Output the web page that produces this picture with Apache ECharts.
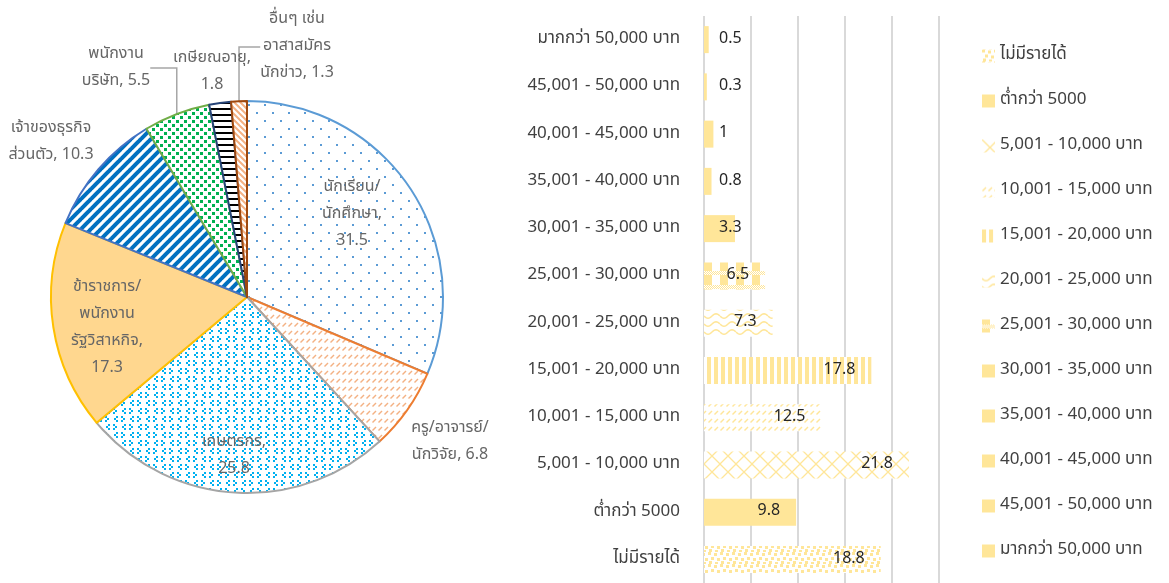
<!DOCTYPE html>
<html>
<head>
<meta charset="utf-8">
<script src="https://cdn.jsdelivr.net/npm/echarts@6/dist/echarts.min.js"></script>
<style>
  html, body { margin: 0; padding: 0; background: #fff; }
  #chart { width: 1169px; height: 583px; }
</style>
</head>
<body>
<div id="chart"></div>
<script>
// Occupation shares (pie), clockwise from 12 o'clock
const occupations = [
  'นักเรียน/\nนักศึกษา',
  'ครู/อาจารย์/\nนักวิจัย',
  'เกษตรกร',
  'ข้าราชการ/\nพนักงาน\nรัฐวิสาหกิจ',
  'เจ้าของธุรกิจ\nส่วนตัว',
  'พนักงาน\nบริษัท',
  'เกษียณอายุ',
  'อื่นๆ เช่น\nอาสาสมัคร\nนักข่าว'
];
const occupationShare = [31.5, 6.8, 25.8, 17.3, 10.3, 5.5, 1.8, 1.3];

// Monthly income bands (bar), listed bottom to top
const incomeBands = [
  'ไม่มีรายได้',
  'ต่ำกว่า 5000',
  '5,001 - 10,000 บาท',
  '10,001 - 15,000 บาท',
  '15,001 - 20,000 บาท',
  '20,001 - 25,000 บาท',
  '25,001 - 30,000 บาท',
  '30,001 - 35,000 บาท',
  '35,001 - 40,000 บาท',
  '40,001 - 45,000 บาท',
  '45,001 - 50,000 บาท',
  'มากกว่า 50,000 บาท'
];
const incomeShare = [18.8, 9.8, 21.8, 12.5, 17.8, 7.3, 6.5, 3.3, 0.8, 1, 0.3, 0.5];

const FONT = "Tahoma, 'Noto Sans Thai', 'Noto Sans', 'DejaVu Sans', sans-serif";

// ---- pattern tiles ----
function tile(w, h, draw, bg) {
  const c = document.createElement('canvas');
  c.width = w; c.height = h;
  const g = c.getContext('2d');
  g.fillStyle = bg || '#ffffff';
  g.fillRect(0, 0, w, h);
  draw(g, w, h);
  return { image: c, repeat: 'repeat' };
}
function diag(g, w, h, color, lw, up) {
  g.strokeStyle = color; g.lineWidth = lw;
  for (let k = -w; k <= w; k += w) {
    g.beginPath();
    if (up) { g.moveTo(k - 1, h + 1); g.lineTo(k + w + 1, -1); }
    else { g.moveTo(k - 1, -1); g.lineTo(k + w + 1, h + 1); }
    g.stroke();
  }
}
function squares(g, color, pts, s) {
  g.fillStyle = color;
  pts.forEach(p => g.fillRect(p[0], p[1], s, s));
}
function dashUp(color) {
  return tile(6, 8, g => {
    g.strokeStyle = color; g.lineWidth = 1.4;
    g.beginPath(); g.moveTo(0.5, 6.5); g.lineTo(4, 3); g.stroke();
  });
}

const GOLD = '#FFE699';
const pieFills = [
  tile(16, 16, g => squares(g, '#5B9BD5', [[0, 0], [8, 8]], 2)),
  dashUp('#F4B183'),
  tile(16, 16, g => squares(g, '#00B0F0',
    [[4, 0], [2, 2], [4, 4], [9, 0], [11, 2], [9, 4],
     [12, 8], [10, 10], [12, 12], [1, 8], [3, 10], [1, 12]], 2)),
  '#FFD78F',
  tile(10, 10, (g, w, h) => diag(g, w, h, '#0070C0', 4, true)),
  tile(8, 8, g => squares(g, '#00B050', [[0, 0], [4, 4]], 3)),
  tile(4, 6, g => { g.fillStyle = '#000'; g.fillRect(0, 0, 4, 2); }),
  tile(6, 6, (g, w, h) => diag(g, w, h, '#F4B183', 2, false))
];
const pieBorders = ['#5B9BD5', '#ED7D31', '#A5A5A5', '#FFC000', '#4472C4', '#70AD47', '#264478', '#9E480E'];

const barFills = [
  tile(12, 12, g => squares(g, GOLD, [[0, 0], [6, 1], [3, 5], [9, 6], [1, 9], [7, 10]], 3)),
  GOLD,
  tile(16, 16, g => {
    g.strokeStyle = GOLD; g.lineWidth = 1.3;
    g.beginPath(); g.moveTo(0, 0); g.lineTo(16, 16); g.moveTo(0, 16); g.lineTo(16, 0); g.stroke();
  }),
  dashUp(GOLD),
  tile(7, 2, g => { g.fillStyle = GOLD; g.fillRect(0, 0, 4, 2); }),
  tile(16, 8, g => {
    g.strokeStyle = GOLD; g.lineWidth = 1.5;
    g.beginPath();
    for (let x = 0; x <= 16; x++) {
      const y = 4 + 2.2 * Math.sin(x / 16 * Math.PI * 2);
      if (x === 0) g.moveTo(x, y); else g.lineTo(x, y);
    }
    g.stroke();
  }),
  tile(16, 14, g => {
    g.fillStyle = GOLD;
    g.fillRect(0, 0, 8, 5);
    g.fillRect(0, 9, 8, 5);
    for (let x = 0; x < 16; x++) for (let y = 5; y < 9; y++) if ((x + y) % 2 === 0) g.fillRect(x, y, 1, 1);
  }),
  GOLD, GOLD, GOLD, GOLD, GOLD
];

// ---- pie layout ----
const PIE_CX = 247, PIE_CY = 297, PIE_R = 196;
// label block centres relative to the pie centre
const pieLabelSpots = [
  [105, -82], [203, 145], [-13, 159], [-140, 31],
  [-196, -155], [-131, -229], [-35, -225], [50, -250]
];
const valueOnOwnLine = [true, false, true, true, false, false, true, false];
const withLeader = [false, false, false, false, false, true, false, true];

const pieData = occupations.map((name, i) => ({
  name: name,
  value: occupationShare[i],
  itemStyle: { color: pieFills[i], borderColor: pieBorders[i], borderWidth: 2 },
  labelLine: { show: withLeader[i] }
}));

const barSeries = incomeBands.map((band, i) => ({
  name: band,
  type: 'bar',
  xAxisIndex: 0,
  yAxisIndex: 0,
  barWidth: 27,
  barGap: '-100%',
  itemStyle: { color: barFills[i] },
  label: {
    show: true,
    position: incomeShare[i] < 5 ? 'insideLeft' : 'insideRight',
    distance: incomeShare[i] < 5 ? 15 : 16,
    color: '#262626',
    fontSize: 16,
    fontFamily: FONT
  },
  data: incomeBands.map((_, j) => (j === i ? incomeShare[i] : '-'))
}));

const chart = echarts.init(document.getElementById('chart'), null, { renderer: 'canvas' });
chart.setOption({
  backgroundColor: '#ffffff',
  animation: false,
  textStyle: { fontFamily: FONT },
  grid: { left: 704, top: 16, width: 235, height: 568 },
  xAxis: {
    type: 'value', min: 0, max: 25, interval: 5,
    axisLine: { show: false }, axisTick: { show: false }, axisLabel: { show: false },
    splitLine: { lineStyle: { color: '#D9D9D9', width: 2 } }
  },
  yAxis: {
    type: 'category', data: incomeBands,
    axisLine: { show: false }, axisTick: { show: false },
    axisLabel: { color: '#404040', fontSize: 17, margin: 24, fontFamily: FONT }
  },
  legend: {
    orient: 'vertical', left: 982, top: 46, padding: 0,
    itemWidth: 13, itemHeight: 13, itemGap: 25, icon: 'rect',
    textStyle: { color: '#404040', fontSize: 17, fontFamily: FONT, lineHeight: 20 },
    data: incomeBands.slice()
  },
  series: [
    {
      type: 'pie',
      center: [PIE_CX, PIE_CY],
      radius: PIE_R,
      startAngle: 90,
      clockwise: true,
      avoidLabelOverlap: false,
      legendHoverLink: false,
      label: {
        show: true,
        position: 'outside',
        color: '#666666',
        fontSize: 16,
        lineHeight: 27,
        fontFamily: FONT,
        formatter: p => p.name + (valueOnOwnLine[p.dataIndex] ? ',\n' : ', ') + p.value
      },
      labelLine: { show: false, lineStyle: { color: '#A6A6A6', width: 1.5 } },
      labelLayout: p => ({
        x: PIE_CX + pieLabelSpots[p.dataIndex][0],
        y: PIE_CY + pieLabelSpots[p.dataIndex][1],
        align: 'center',
        verticalAlign: 'middle'
      }),
      data: pieData
    }
  ].concat(barSeries)
});
</script>
</body>
</html>
